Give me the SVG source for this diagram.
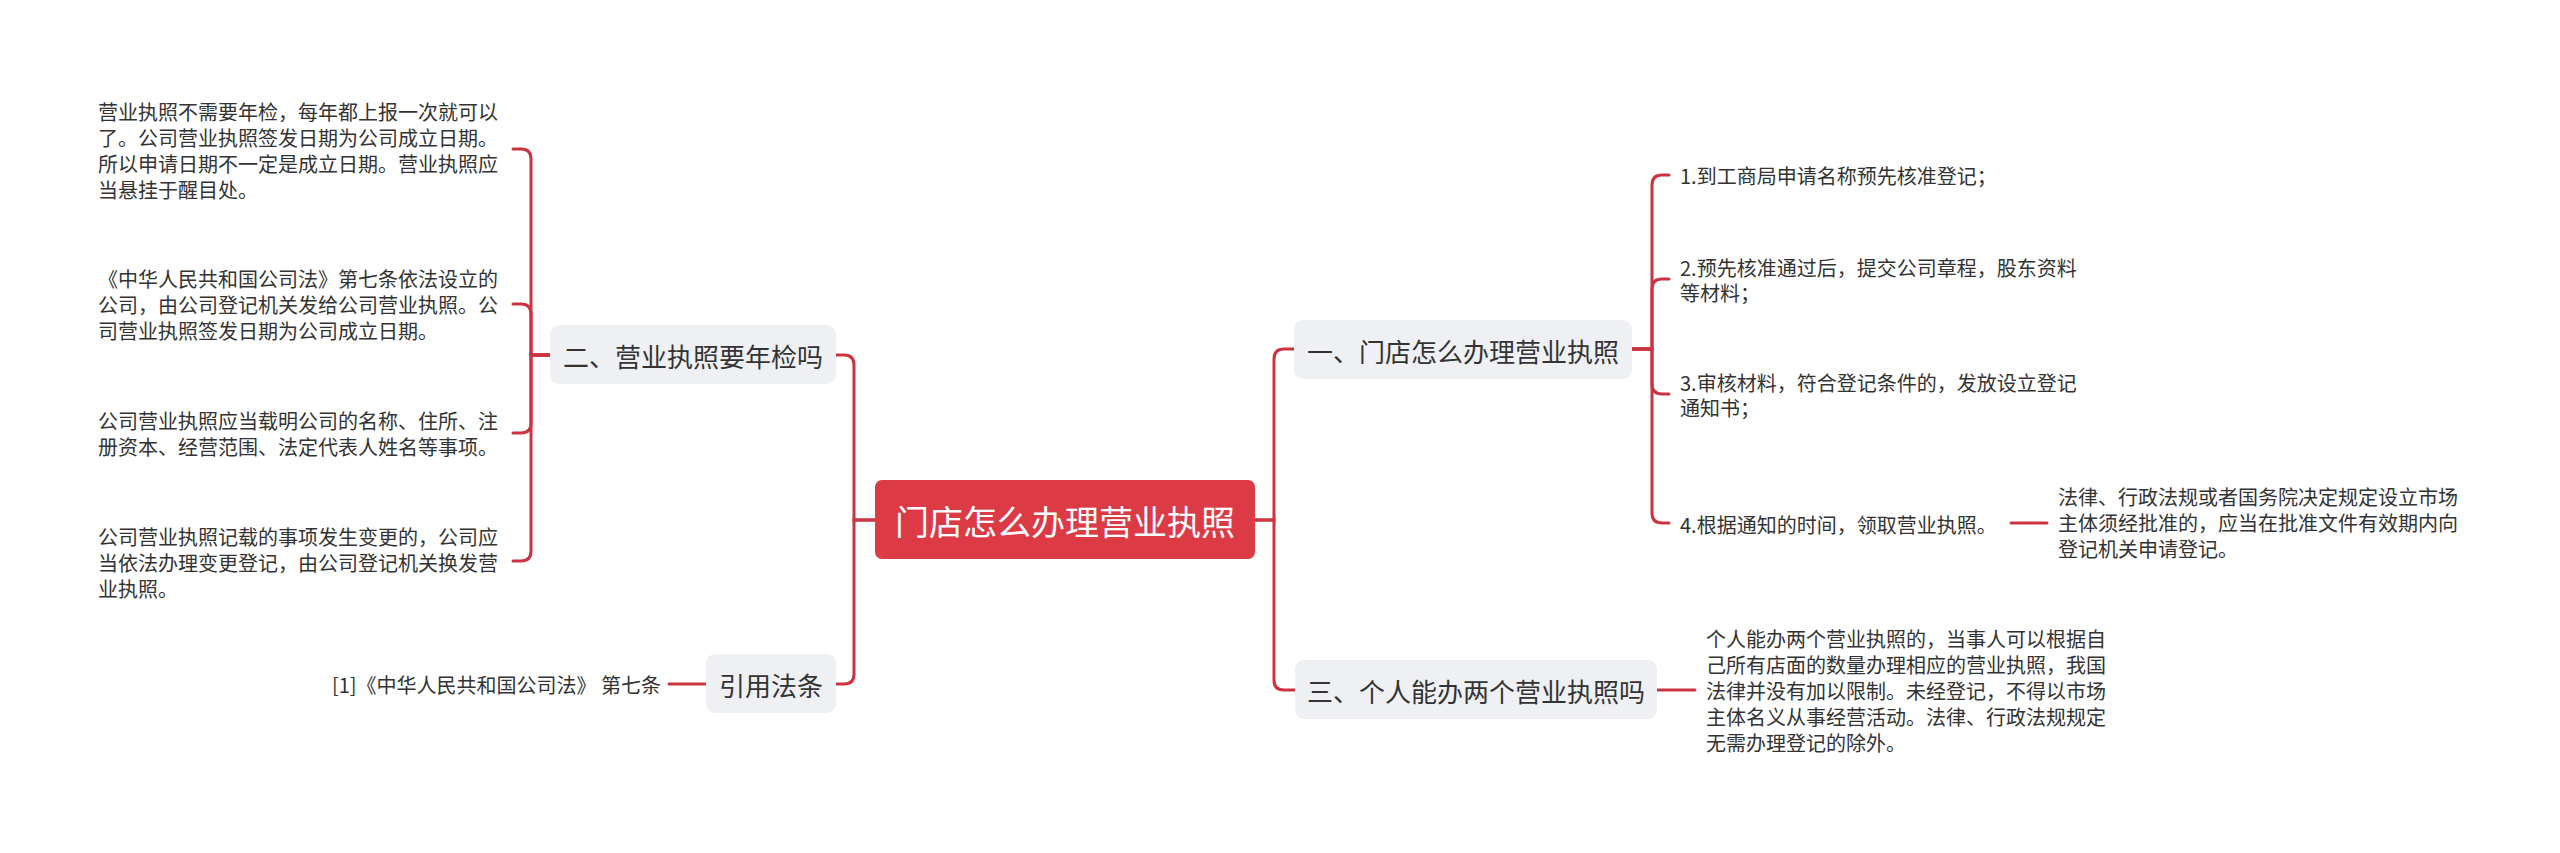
<svg xmlns="http://www.w3.org/2000/svg" width="2560" height="853" viewBox="0 0 2560 853">
<style>
text{font-family:"Noto Sans CJK SC","Noto Sans",sans-serif;dominant-baseline:central}
.leaf{font-size:20px;fill:#333}
.sub rect{fill:#eef0f4}
.sub text{font-size:26px;fill:#333;text-anchor:middle}
.root text{font-size:34px;fill:#fff;text-anchor:middle}
.conn path{fill:none;stroke:#cc3340;stroke-width:3;stroke-linecap:round}
</style>
<rect width="2560" height="853" fill="#fff"/>
<g class="conn" id="connectors">
<path d="M875,520 H854 V365 Q854,355 844,355 H836"/>
<path d="M875,520 H854 V674 Q854,684 844,684 H836"/>
<path d="M1255,520 H1274 V359 Q1274,349 1284,349 H1294"/>
<path d="M1255,520 H1274 V680 Q1274,690 1284,690 H1295"/>
<path d="M550,355 H531 V159 Q531,149 521,149 H513"/>
<path d="M550,355 H531 V314 Q531,304 521,304 H513"/>
<path d="M550,355 H531 V423 Q531,433 521,433 H513"/>
<path d="M550,355 H531 V551 Q531,561 521,561 H513"/>
<path d="M706,684 H669"/>
<path d="M1632,349 H1652 V185 Q1652,175 1662,175 H1669"/>
<path d="M1632,349 H1652 V289 Q1652,279 1662,279 H1669"/>
<path d="M1632,349 H1652 V384 Q1652,394 1662,394 H1669"/>
<path d="M1632,349 H1652 V513 Q1652,523 1662,523 H1669"/>
<path d="M2011,523 H2047"/>
<path d="M1657,690 H1695"/>
</g>
<g class="root" id="root">
<rect x="875" y="480" width="380" height="79" rx="7" fill="#dc3b45"/>
<text x="1065" y="520">门店怎么办理营业执照</text>
</g>
<g class="sub" id="n-er">
<rect x="550" y="325" width="286" height="59" rx="9"/>
<text x="693" y="355">二、营业执照要年检吗</text>
</g>
<g class="sub" id="n-yinyong">
<rect x="706" y="654" width="130" height="59" rx="9"/>
<text x="771" y="684">引用法条</text>
</g>
<g class="sub" id="n-yi">
<rect x="1294" y="320" width="338" height="59" rx="9"/>
<text x="1463" y="350">一、门店怎么办理营业执照</text>
</g>
<g class="sub" id="n-san">
<rect x="1295" y="660" width="362" height="59" rx="9"/>
<text x="1476" y="690">三、个人能办两个营业执照吗</text>
</g>
<g id="l1"><text class="leaf"><tspan x="98" y="111">营业执照不需要年检，每年都上报一次就可以</tspan><tspan x="98" y="137">了。公司营业执照签发日期为公司成立日期。</tspan><tspan x="98" y="163">所以申请日期不一定是成立日期。营业执照应</tspan><tspan x="98" y="189">当悬挂于醒目处。</tspan></text></g>
<g id="l2"><text class="leaf"><tspan x="98" y="278">《中华人民共和国公司法》第七条依法设立的</tspan><tspan x="98" y="304">公司，由公司登记机关发给公司营业执照。公</tspan><tspan x="98" y="330">司营业执照签发日期为公司成立日期。</tspan></text></g>
<g id="l3"><text class="leaf"><tspan x="98" y="420">公司营业执照应当载明公司的名称、住所、注</tspan><tspan x="98" y="446">册资本、经营范围、法定代表人姓名等事项。</tspan></text></g>
<g id="l4"><text class="leaf"><tspan x="98" y="536">公司营业执照记载的事项发生变更的，公司应</tspan><tspan x="98" y="562">当依法办理变更登记，由公司登记机关换发营</tspan><tspan x="98" y="588">业执照。</tspan></text></g>
<g id="ref"><text class="leaf" x="661" y="684" text-anchor="end">[1]《中华人民共和国公司法》 第七条</text></g>
<g id="r1"><text class="leaf" x="1680" y="175">1.到工商局申请名称预先核准登记；</text></g>
<g id="r2"><text class="leaf"><tspan x="1680" y="267">2.预先核准通过后，提交公司章程，股东资料</tspan><tspan x="1680" y="292">等材料；</tspan></text></g>
<g id="r3"><text class="leaf"><tspan x="1680" y="382">3.审核材料，符合登记条件的，发放设立登记</tspan><tspan x="1680" y="407">通知书；</tspan></text></g>
<g id="r4"><text class="leaf" x="1680" y="524">4.根据通知的时间，领取营业执照。</text></g>
<g id="r4c"><text class="leaf"><tspan x="2058" y="496">法律、行政法规或者国务院决定规定设立市场</tspan><tspan x="2058" y="522">主体须经批准的，应当在批准文件有效期内向</tspan><tspan x="2058" y="548">登记机关申请登记。</tspan></text></g>
<g id="s1"><text class="leaf"><tspan x="1706" y="638">个人能办两个营业执照的，当事人可以根据自</tspan><tspan x="1706" y="664">己所有店面的数量办理相应的营业执照，我国</tspan><tspan x="1706" y="690">法律并没有加以限制。未经登记，不得以市场</tspan><tspan x="1706" y="716">主体名义从事经营活动。法律、行政法规规定</tspan><tspan x="1706" y="742">无需办理登记的除外。</tspan></text></g>
</svg>
